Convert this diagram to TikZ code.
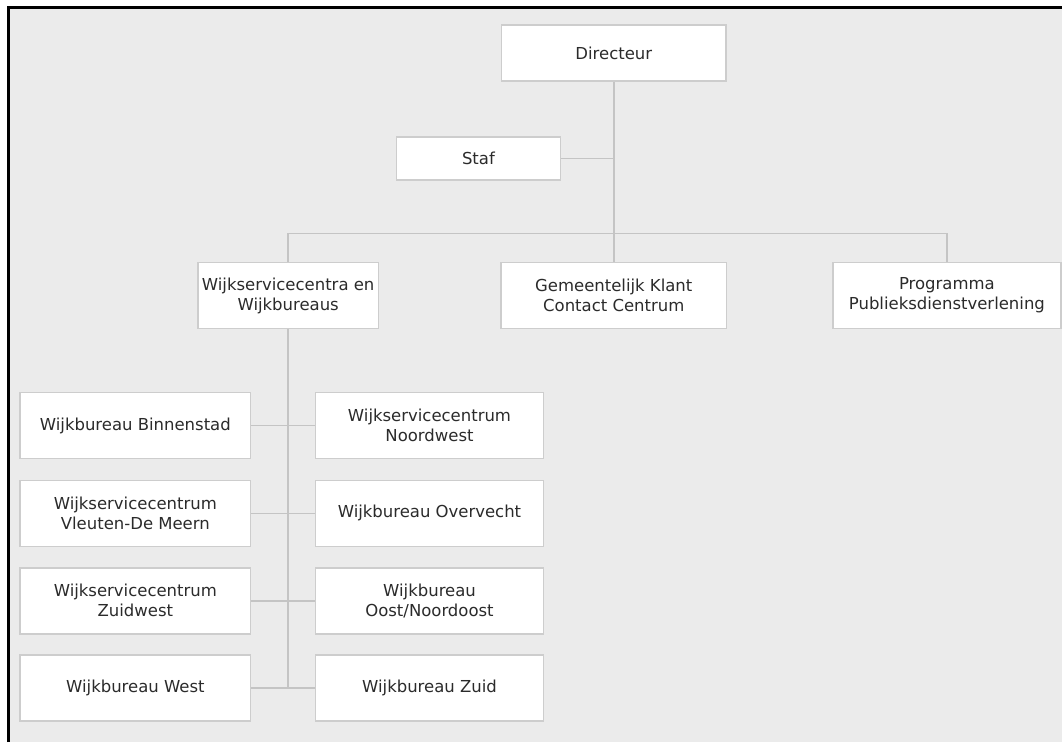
\documentclass[tikz,border=0pt]{standalone}
\usepackage{fontspec}
\setmainfont{DejaVu Sans}
\usepackage{tikz}
\definecolor{bggray}{HTML}{EBEBEB}
\definecolor{linegray}{HTML}{C4C4C4}
\definecolor{boxgray}{HTML}{CDCDCD}
\definecolor{textgray}{HTML}{2B2B2B}

\begin{document}
\begin{tikzpicture}[x=1pt, y=-1pt,
  unit/.style={draw=boxgray, line width=1.5pt, fill=white, align=center,
    text=textgray, font=\fontsize{16.5}{20}\selectfont, inner sep=0pt,
    minimum height=66pt},
  link/.style={draw=linegray, line width=1.5pt}]

  % frame and background
  \fill[white] (0, 0) rectangle (1063, 743);
  \fill[bggray] (9, 8) rectangle (1063, 743);
  \draw[line width=2.5pt] (8.5, 743) -- (8.5, 7.5) -- (1063, 7.5);
  \useasboundingbox (0, 0) rectangle (1063, 743);

  % top levels
  \node[unit, minimum width=225pt, minimum height=56pt] (dir) at (614.5, 53) {Directeur};
  \node[unit, minimum width=164pt, minimum height=43pt] (staf) at (479, 158.5) {Staf};
  \node[unit, minimum width=181pt] (wsc) at (288.5, 296) {Wijkservicecentra en\\Wijkbureaus};
  \node[unit, minimum width=226pt] (kcc) at (614.5, 296) {Gemeentelijk Klant\\Contact Centrum};
  \node[unit, minimum width=228pt] (prog) at (948, 296) {Programma\\Publieksdienstverlening};

  \coordinate (bus) at (614.5, 234);
  \draw[link] (dir) -- (kcc);
  \draw[link] (staf.east) -- (staf.east -| dir);
  \draw[link] (wsc.north) |- (bus) -| (prog.north);

  % wijkbureaus, left column
  \node[unit, minimum width=231pt] (bin) at (135.5, 426) {Wijkbureau Binnenstad};
  \node[unit, minimum width=231pt] (vdm) at (135.5, 514) {Wijkservicecentrum\\Vleuten-De Meern};
  \node[unit, minimum width=231pt] (zw) at (135.5, 601.5) {Wijkservicecentrum\\Zuidwest};
  \node[unit, minimum width=231pt] (west) at (135.5, 689) {Wijkbureau West};

  % wijkbureaus, right column
  \node[unit, minimum width=228pt] (nw) at (430, 426) {Wijkservicecentrum\\Noordwest};
  \node[unit, minimum width=228pt] (ovv) at (430, 514) {Wijkbureau Overvecht};
  \node[unit, minimum width=228pt] (ono) at (430, 601.5) {Wijkbureau\\Oost/Noordoost};
  \node[unit, minimum width=228pt] (zuid) at (430, 689) {Wijkbureau Zuid};

  \draw[link] (wsc.south) -- (wsc.south |- west.east);
  \foreach \l/\r in {bin/nw, vdm/ovv, zw/ono, west/zuid} {
    \draw[link] (\l.east) -- (\r.west);
  }

\end{tikzpicture}
\end{document}
